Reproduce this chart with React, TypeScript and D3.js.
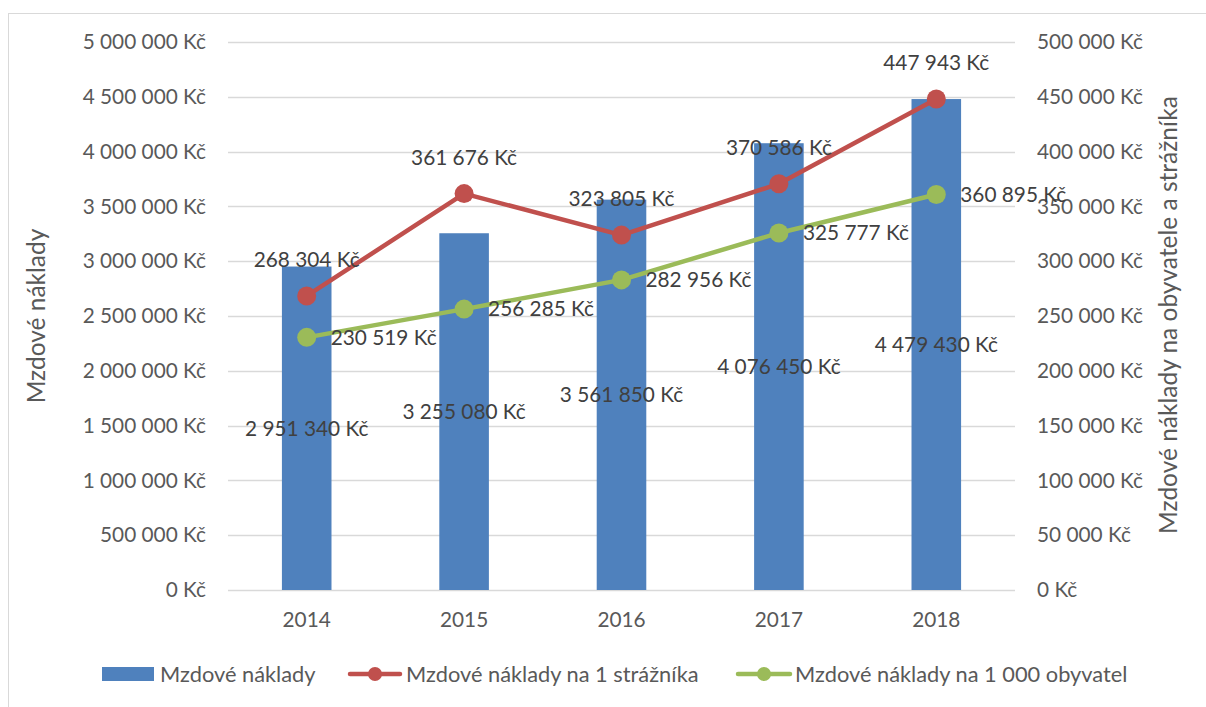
import React from "react";
import * as d3 from "d3";

const years = ["2014", "2015", "2016", "2017", "2018"];
const mzdoveNaklady = [2951340, 3255080, 3561850, 4076450, 4479430];
const naStraznika = [268304, 361676, 323805, 370586, 447943];
const naObyvatel = [230519, 256285, 282956, 325777, 360895];
const leftTicks = [0, 500000, 1000000, 1500000, 2000000, 2500000, 3000000, 3500000, 4000000, 4500000, 5000000];
const rightTicks = [0, 50000, 100000, 150000, 200000, 250000, 300000, 350000, 400000, 450000, 500000];

const W = 1206, H = 707;
const plot = { left: 228, right: 1015, top: 42, bottom: 590 };
const FONT = "Lato, 'Open Sans', sans-serif";
const TXT = "#595959";
const LBL = "#404040";
const BLUE = "#4F81BD", RED = "#C0504D", GREEN = "#9BBB59";
const FS = 20.8;
const LFS = 21.8;
const TFS = 24.5;

const fmt = (v: number) => {
  const s = d3.format(",")(v).replace(/,/g, " ");
  return s + " Kč";
};

export default function App() {
  const x = d3.scaleBand<string>().domain(years).range([plot.left, plot.right]).paddingInner(0).paddingOuter(0);
  const yL = d3.scaleLinear().domain([0, 5000000]).range([plot.bottom, plot.top]);
  const yR = d3.scaleLinear().domain([0, 500000]).range([plot.bottom, plot.top]);
  const cx = (y: string) => (x(y) as number) + x.bandwidth() / 2;
  const barW = x.bandwidth() * 0.315;
  const lineGen = d3.line<number>().x((_, i) => cx(years[i])).y((d) => yR(d));

  return (
    <svg width={W} height={H} style={{ position: "absolute", left: 0, top: 0 }} fontFamily={FONT}>
      <rect x={0} y={0} width={W} height={H} fill="#fff" />
      <rect x={8.5} y={13.5} width={1300} height={800} fill="#fff" stroke="#D9D9D9" strokeWidth={1} />
      {leftTicks.map((t) => (
        <line key={t} x1={plot.left} x2={plot.right} y1={Math.round(yL(t)) + 0.5} y2={Math.round(yL(t)) + 0.5} stroke="#D9D9D9" strokeWidth={1.3} />
      ))}
      {leftTicks.map((t) => (
        <text key={"l" + t} x={206} y={yL(t)} dy="0.35em" textAnchor="end" fontSize={FS} fill={TXT}>{fmt(t)}</text>
      ))}
      {rightTicks.map((t) => (
        <text key={"r" + t} x={1037} y={yR(t)} dy="0.35em" textAnchor="start" fontSize={FS} fill={TXT}>{fmt(t)}</text>
      ))}
      {years.map((yy) => (
        <text key={"x" + yy} x={cx(yy)} y={620} dy="0.35em" textAnchor="middle" fontSize={FS} fill={TXT}>{yy}</text>
      ))}
      <text transform={`translate(36,316) rotate(-90)`} textAnchor="middle" dy="0.35em" fontSize={TFS} fill={TXT}>Mzdové náklady</text>
      <text transform={`translate(1168,315) rotate(-90)`} textAnchor="middle" dy="0.35em" fontSize={TFS} fill={TXT}>Mzdové náklady na obyvatele a strážníka</text>

      {mzdoveNaklady.map((v, i) => (
        <rect key={"b" + i} x={cx(years[i]) - barW / 2} y={yL(v)} width={barW} height={plot.bottom - yL(v)} fill={BLUE} />
      ))}

      <path d={lineGen(naStraznika) || ""} fill="none" stroke={RED} strokeWidth={4.5} strokeLinejoin="round" strokeLinecap="round" />
      <path d={lineGen(naObyvatel) || ""} fill="none" stroke={GREEN} strokeWidth={4.5} strokeLinejoin="round" strokeLinecap="round" />
      {naStraznika.map((v, i) => (
        <circle key={"rc" + i} cx={cx(years[i])} cy={yR(v)} r={9.5} fill={RED} />
      ))}
      {naObyvatel.map((v, i) => (
        <circle key={"gc" + i} cx={cx(years[i])} cy={yR(v)} r={9.5} fill={GREEN} />
      ))}

      {mzdoveNaklady.map((v, i) => (
        <text key={"bl" + i} x={cx(years[i])} y={(yL(v) + plot.bottom) / 2} dy="0.35em" textAnchor="middle" fontSize={FS} fill={LBL}>{fmt(v)}</text>
      ))}
      {naStraznika.map((v, i) => (
        <text key={"rl" + i} x={cx(years[i])} y={yR(v) - 36} dy="0.35em" textAnchor="middle" fontSize={FS} fill={LBL}>{fmt(v)}</text>
      ))}
      {naObyvatel.map((v, i) => (
        <text key={"gl" + i} x={cx(years[i]) + 24} y={yR(v)} dy="0.35em" textAnchor="start" fontSize={FS} fill={LBL}>{fmt(v)}</text>
      ))}

      <g fontSize={LFS} fill={TXT}>
        <rect x={102} y={667} width={52} height={14} fill={BLUE} />
        <text x={160} y={674} dy="0.35em">Mzdové náklady</text>
        <line x1={350} x2={400} y1={674} y2={674} stroke={RED} strokeWidth={4.5} strokeLinecap="round" />
        <circle cx={375} cy={674} r={7} fill={RED} />
        <text x={406} y={674} dy="0.35em">Mzdové náklady na 1 strážníka</text>
        <line x1={738} x2={790} y1={674} y2={674} stroke={GREEN} strokeWidth={4.5} strokeLinecap="round" />
        <circle cx={764} cy={674} r={7} fill={GREEN} />
        <text x={795} y={674} dy="0.35em">Mzdové náklady na 1 000 obyvatel</text>
      </g>
    </svg>
  );
}
